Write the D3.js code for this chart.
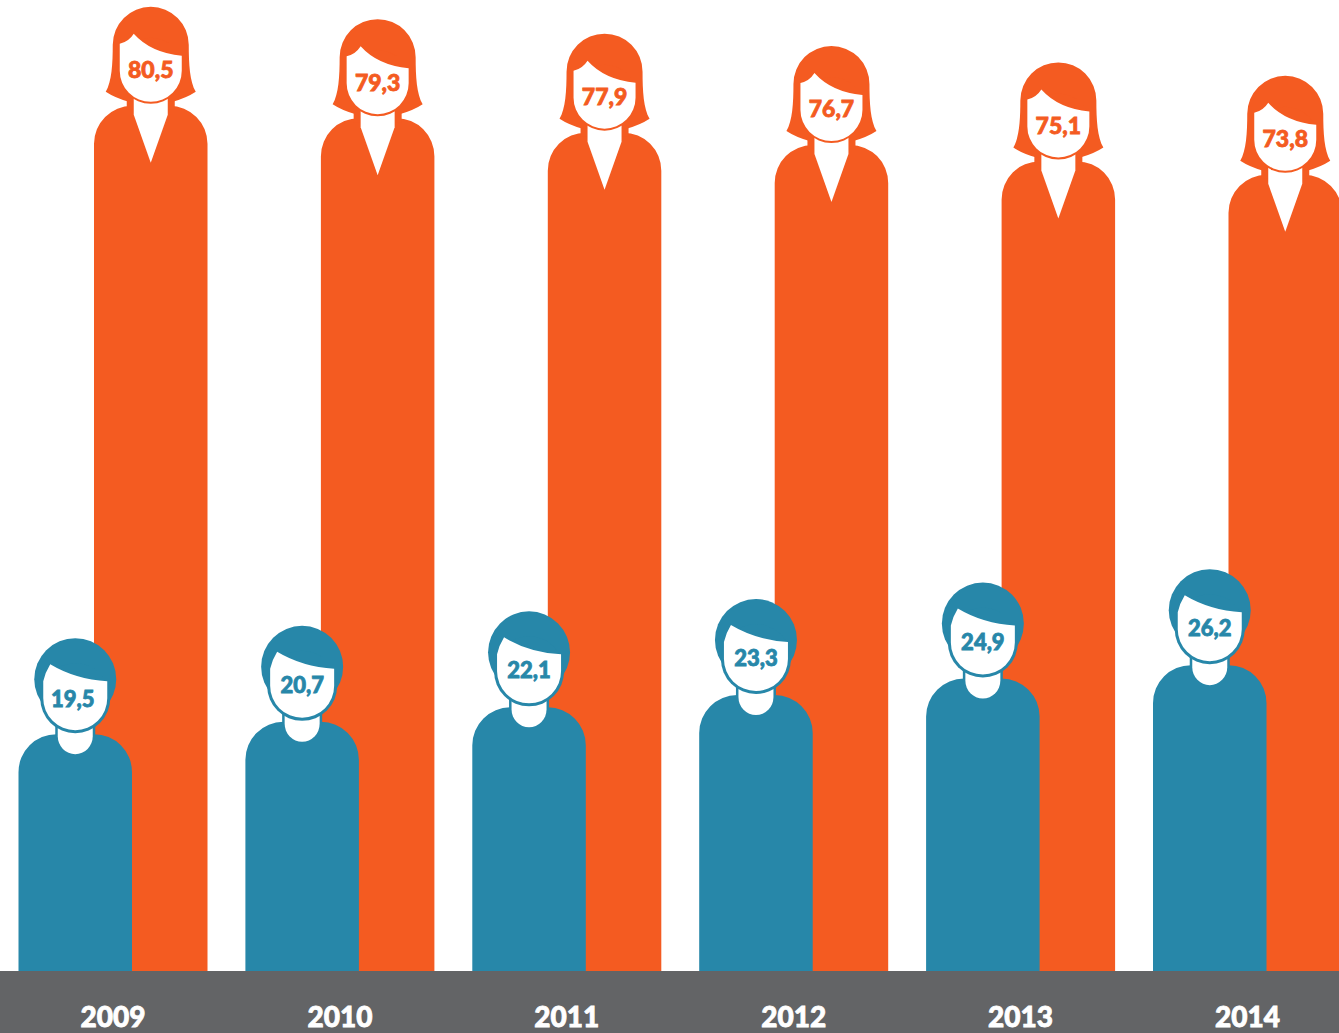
<!DOCTYPE html>
<html>
<head>
<meta charset="utf-8">
<script src="https://cdn.jsdelivr.net/npm/d3@7"></script>
<style>
  html, body { margin: 0; padding: 0; background: #fff; overflow: hidden; }
  text { font-family: "Lato", sans-serif; font-weight: 900; text-anchor: middle; stroke-width: 0.8px; }
</style>
</head>
<body>
<div id="chart"></div>
<script>
// data
const years = ["2009", "2010", "2011", "2012", "2013", "2014"];
const women = [80.5, 79.3, 77.9, 76.7, 75.1, 73.8];
const men = [19.5, 20.7, 22.1, 23.3, 24.9, 26.2];

const width = 1339;
const height = 1033;
const baseline = 971;
const orange = "#f45b21";
const teal = "#2787a9";
const grey = "#636466";

const barWidth = 113.5;
const womanOffset = 75.5;
const radius = 38;

const svg = d3.select("#chart")
  .append("svg")
  .attr("width", width)
  .attr("height", height)
  .style("display", "block");

// one band per year, each holds a man and a woman
const x = d3.scaleBand()
  .domain(years)
  .range([18.5, 18.5 + 226.9 * years.length]);

// body top of a figure, 0 still leaves a bit of body above the floor
const y = d3.scaleLinear()
  .domain([0, 100])
  .range([baseline - 36, baseline - 36 - 1030]);

const fmt = d3.formatLocale({ decimal: ",", thousands: ".", grouping: [3], currency: ["", ""] }).format(".1f");

function bodyPath(d) {
  const w = barWidth / 2;
  const p = d3.path();
  p.moveTo(-w, baseline - y(d));
  p.lineTo(-w, radius);
  p.arcTo(-w, 0, -w + radius, 0, radius);
  p.lineTo(w - radius, 0);
  p.arcTo(w, 0, w, radius, radius);
  p.lineTo(w, baseline - y(d));
  p.closePath();
  return p.toString();
}

const hair = "M-38,-61 A38,38 0 0 1 38,-61 C38,-42 39,-24 45,-14 Q36,-8 22,-4 L-22,-4 Q-36,-8 -45,-14 C-39,-24 -38,-42 -38,-61 Z";
const womanFace = "M-31,-62 Q-22,-64 -17,-72 Q0,-53 31,-50 L31,-35 A31,31 0 0 1 -31,-35 Z";
const collar = "M-17,-8 L17,-8 L17,9 L0,57 L-17,9 Z";
const manFace = "M-32,-53 Q-30,-62 -25,-70 Q0,-55 32,-53 L32,-36 A32,32 0 0 1 -32,-36 Z";
const manNeck = "M-17.5,-8 L17.5,-8 L17.5,2 A17.5,18 0 0 1 -17.5,2 Z";

// women go first, the men stand in front of them
const womanG = svg.selectAll("g.woman")
  .data(women)
  .enter()
  .append("g")
  .attr("class", "woman")
  .attr("transform", (d, i) => `translate(${x(years[i]) + womanOffset + barWidth / 2}, ${y(d)})`);

womanG.append("path").attr("d", bodyPath).attr("fill", orange);
womanG.append("rect").attr("x", -24).attr("y", -10).attr("width", 48).attr("height", 14).attr("fill", orange);
womanG.append("path").attr("d", hair).attr("fill", orange);
womanG.append("path").attr("d", collar).attr("fill", "#fff");
womanG.append("circle").attr("cy", -35).attr("r", 33).attr("fill", orange);
womanG.append("path").attr("d", womanFace).attr("fill", "#fff");
womanG.append("text")
  .attr("y", -27.5)
  .attr("font-size", 23)
  .attr("fill", orange)
  .attr("stroke", orange)
  .text(d => fmt(d));

const manG = svg.selectAll("g.man")
  .data(men)
  .enter()
  .append("g")
  .attr("class", "man")
  .attr("transform", (d, i) => `translate(${x(years[i]) + barWidth / 2}, ${y(d)})`);

manG.append("path").attr("d", bodyPath).attr("fill", teal);
manG.append("rect").attr("x", -20).attr("y", -12).attr("width", 40).attr("height", 16).attr("fill", teal);
manG.append("path").attr("d", manNeck).attr("fill", "#fff");
manG.append("circle").attr("cy", -55).attr("r", 41).attr("fill", teal);
manG.append("circle").attr("cy", -36).attr("r", 35).attr("fill", teal);
manG.append("path").attr("d", manFace).attr("fill", "#fff");
// the first label sits a bit lower and to the left in the original
manG.append("text")
  .attr("x", (d, i) => i === 0 ? -2.5 : 0)
  .attr("y", (d, i) => i === 0 ? -27 : -29)
  .attr("font-size", 22)
  .attr("fill", teal)
  .attr("stroke", teal)
  .text(d => fmt(d));

// grey floor with the years
svg.append("rect")
  .attr("x", 0)
  .attr("y", baseline)
  .attr("width", width)
  .attr("height", height - baseline)
  .attr("fill", grey);

svg.selectAll("text.year")
  .data(years)
  .enter()
  .append("text")
  .attr("class", "year")
  .attr("x", d => x(d) + (barWidth + womanOffset) / 2)
  .attr("y", 1027)
  .attr("font-size", 28)
  .attr("fill", "#fff")
  .attr("stroke", "#fff")
  .text(d => d);
</script>
</body>
</html>
